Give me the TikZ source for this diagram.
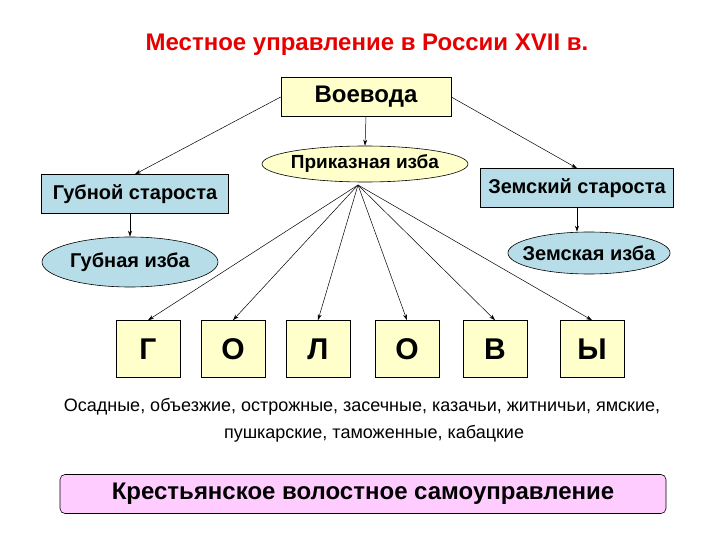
\documentclass[tikz,border=0pt]{standalone}
\usepackage{fontspec}
\setmainfont{Liberation Sans}
\usetikzlibrary{arrows.meta,shapes.geometric}
\definecolor{ylw}{RGB}{255,255,204}
\definecolor{blu}{RGB}{183,222,232}
\definecolor{pnk}{RGB}{255,204,255}
\definecolor{ttl}{RGB}{230,0,0}
\begin{document}
\begin{tikzpicture}[x=1pt,y=-1pt,
  box/.style={draw,line width=0.6pt,inner sep=0pt,font=\bfseries\fontsize{20}{24}\selectfont},
  ell/.style={draw,ellipse,line width=0.6pt,inner sep=0pt,font=\bfseries\fontsize{20}{24}\selectfont},
  letter/.style={box,fill=ylw,minimum width=64pt,minimum height=57pt,font=\bfseries\fontsize{30}{34}\selectfont},
  arr/.style={-{Stealth[length=6pt,width=4pt]},line width=0.5pt}]
\useasboundingbox (0,0) rectangle (720,540);
\node[text=ttl,font=\bfseries\fontsize{24}{28}\selectfont] (title) at (367,45) {Местное управление в России XVII в.};
\node[box,fill=ylw,minimum width=170pt,minimum height=39pt,font=\bfseries\fontsize{24}{28}\selectfont] (voe) at (366,97) {Воевода};
\node[ell,fill=ylw,inner xsep=-10pt,minimum width=206pt,minimum height=36pt,font=\bfseries\fontsize{19}{22}\selectfont] (prik) at (365,164) {Приказная изба};
\node[box,fill=blu,minimum width=187pt,minimum height=39pt] (gst) at (135,194) {Губной староста};
\node[ell,fill=blu,inner xsep=-8pt,minimum width=176pt,minimum height=50pt] (giz) at (130,262) {Губная изба};
\node[box,fill=blu,minimum width=193pt,minimum height=39pt] (zst) at (577,188) {Земский староста};
\node[ell,fill=blu,inner xsep=-9pt,minimum width=162pt,minimum height=42pt] (ziz) at (589,253) {Земская изба};
\node[letter] (l1) at (148,349) {Г};
\node[letter] (l2) at (233,349) {О};
\node[letter] (l3) at (318,349) {Л};
\node[letter] (l4) at (407,349) {О};
\node[letter] (l5) at (495,349) {В};
\node[letter] (l6) at (592,349) {Ы};
\node[font=\fontsize{18}{21}\selectfont] (t1) at (362,407) {Осадные, объезжие, острожные, засечные, казачьи, житничьи, ямские,};
\node[font=\fontsize{18}{21}\selectfont] (t2) at (374,434) {пушкарские, таможенные, кабацкие};
\node[draw,rounded corners=5pt,fill=pnk,line width=0.6pt,minimum width=606pt,minimum height=39pt,font=\bfseries\fontsize{24}{28}\selectfont] (krest) at (363,494) {Крестьянское волостное самоуправление};
\coordinate (fan) at (358,185);
\draw[arr] (voe.south) -- (prik.north);
\draw[arr] (voe.west) -- (gst.north);
\draw[arr] (voe.east) -- (zst.north);
\draw[arr] (gst.south -| giz.north) -- (giz.north);
\draw[arr] (zst.south) -- (zst.south |- ziz.north);
\foreach \i in {1,...,6} {\draw[arr] (fan) -- (l\i.north);}
\end{tikzpicture}
\end{document}
